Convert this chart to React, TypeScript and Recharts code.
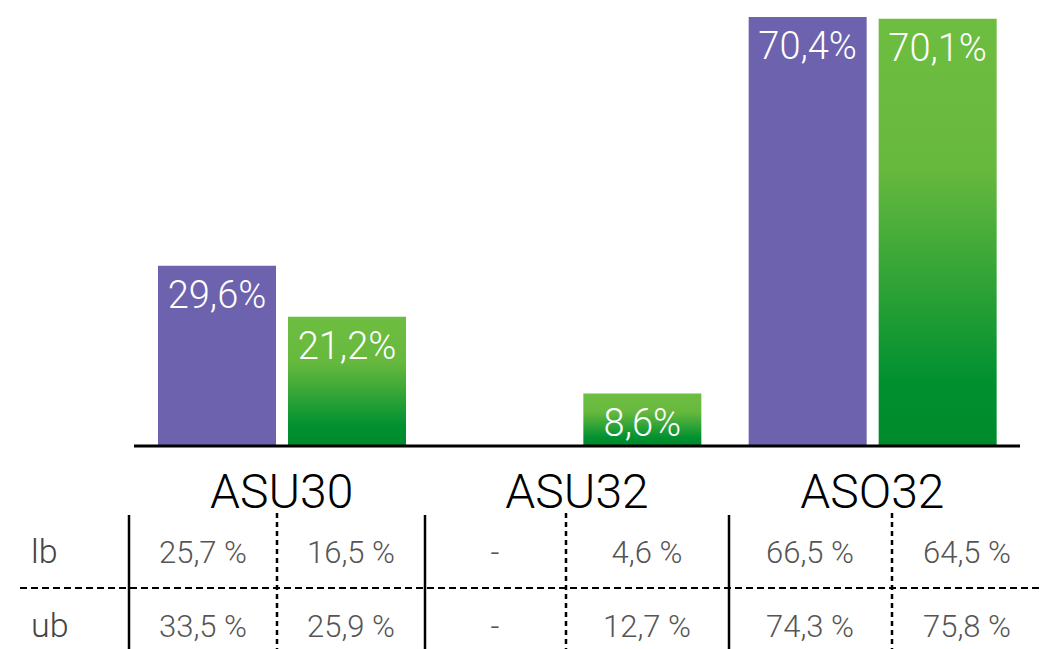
import { BarChart, Bar, XAxis, YAxis, LabelList } from 'recharts'

const categories = ['ASU30', 'ASU32', 'ASO32']
const purpleValues = [29.6, null, 70.4]
const greenValues = [21.2, 8.6, 70.1]
const lbPurple = [25.7, null, 66.5]
const lbGreen = [16.5, 4.6, 64.5]
const ubPurple = [33.5, null, 74.3]
const ubGreen = [25.9, 12.7, 75.8]
const rowLabels = ['lb', 'ub']

const FONT = "Roboto, 'Liberation Sans', sans-serif"

const data = categories.map((name, i) => ({ name, purple: purpleValues[i], green: greenValues[i] }))

const fmt = (v: number | null, space: boolean) =>
      v == null ? '-' : v.toFixed(1).replace('.', ',') + (space ? ' %' : '%')

const BarLabel = (props: any) => {
      const { x, y, width, value } = props
      if (value == null) return null
      return (
            <text x={Number(x) + Number(width) / 2} y={Number(y) + 42} textAnchor="middle" fill="#fff" fontSize={38} fontWeight={300} fontFamily={FONT}>
                  {fmt(value, false)}
            </text>
      )
}

const CategoryTick = (props: any) => {
      const { x, y, payload } = props
      return (
            <text x={x} y={Number(y) + 62} textAnchor="middle" fill="#000" fontSize={48} fontWeight={300} fontFamily={FONT}>
                  {payload.value}
            </text>
      )
}

// table under the chart, its own grid (does not line up exactly with the bars)
const colCenters = [203, 351, 495, 647, 810, 967]
const solidX = [129, 425, 729]
const dashX = [277, 566, 892]
const rowY = [563, 637]

const BoundsTable = () => {
      const rows = [
            [lbPurple, lbGreen],
            [ubPurple, ubGreen]
      ]
      return (
            <svg width={1042} height={649} style={{ position: 'absolute', left: 0, top: 0 }}>
                  <line x1={20} x2={1042} y1={588} y2={588} stroke="#000" strokeWidth={2} strokeDasharray="7 4" />
                  {solidX.map((x) => (
                        <line key={'s' + x} x1={x} x2={x} y1={515} y2={649} stroke="#000" strokeWidth={2.5} />
                  ))}
                  {dashX.map((x) => (
                        <line key={'d' + x} x1={x} x2={x} y1={513} y2={649} stroke="#000" strokeWidth={2.5} strokeDasharray="5 4" />
                  ))}
                  {rowLabels.map((lab, r) => (
                        <text key={lab} x={31} y={rowY[r]} fontSize={34} fontWeight={300} fill="#444" fontFamily={FONT}>
                              {lab}
                        </text>
                  ))}
                  {rows.map(([a, b], r) =>
                        categories.map((_, i) => (
                              <g key={r + '-' + i}>
                                    <text x={colCenters[i * 2]} y={rowY[r]} textAnchor="middle" fontSize={31} fontWeight={300} fill="#555" fontFamily={FONT}>
                                          {fmt(a[i], true)}
                                    </text>
                                    <text x={colCenters[i * 2 + 1]} y={rowY[r]} textAnchor="middle" fontSize={31} fontWeight={300} fill="#555" fontFamily={FONT}>
                                          {fmt(b[i], true)}
                                    </text>
                              </g>
                        ))
                  )}
            </svg>
      )
}

export default function App() {
      return (
            <div style={{ position: 'absolute', left: 0, top: 0, width: 1042, height: 649, background: '#fff' }}>
                  <BarChart width={1042} height={649} data={data} margin={{ top: 17, right: 22, left: 134, bottom: 0 }} barSize={118} barGap={12}>
                        <defs>
                              <linearGradient id="greenFill" x1="0" y1="0" x2="0" y2="1">
                                    <stop offset="0%" stopColor="#6dbd40" />
                                    <stop offset="35%" stopColor="#67b93e" />
                                    <stop offset="85%" stopColor="#009030" />
                                    <stop offset="100%" stopColor="#008a2c" />
                              </linearGradient>
                        </defs>
                        <XAxis
                              dataKey="name"
                              height={203}
                              tickLine={false}
                              tickSize={0}
                              tickMargin={0}
                              axisLine={{ stroke: '#000', strokeWidth: 3 }}
                              tick={<CategoryTick />}
                              interval={0}
                        />
                        <YAxis hide domain={[0, 'dataMax']} />
                        <Bar dataKey="purple" fill="#6c62ae" isAnimationActive={false}>
                              <LabelList dataKey="purple" content={<BarLabel />} />
                        </Bar>
                        <Bar dataKey="green" fill="url(#greenFill)" isAnimationActive={false}>
                              <LabelList dataKey="green" content={<BarLabel />} />
                        </Bar>
                  </BarChart>
                  <BoundsTable />
            </div>
      )
}
